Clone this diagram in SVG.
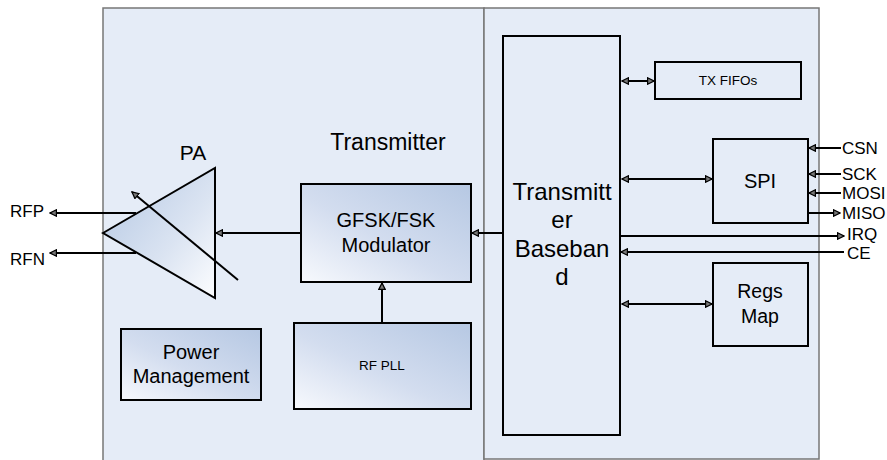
<svg xmlns="http://www.w3.org/2000/svg" width="887" height="460" viewBox="0 0 887 460">
<defs>
<linearGradient id="gb" x1="0" y1="1" x2="1" y2="0">
<stop offset="0" stop-color="#f7f9fd"/>
<stop offset="0.45" stop-color="#d3ddef"/>
<stop offset="1" stop-color="#b6c8e3"/>
</linearGradient>
<linearGradient id="gt" x1="0" y1="0.2" x2="0.9" y2="1">
<stop offset="0" stop-color="#b9cbe5"/>
<stop offset="0.6" stop-color="#dbe4f2"/>
<stop offset="1" stop-color="#f8fafd"/>
</linearGradient>
<marker id="ah" viewBox="0 0 10 10" refX="9" refY="5" markerWidth="4" markerHeight="4" orient="auto-start-reverse" markerUnits="strokeWidth">
<path d="M1,1 L9,5 L1,9 Z" fill="#777" stroke="#000" stroke-width="1.6"/>
</marker>
</defs>
<style>
.panel{fill:#e5ecf7;stroke:#777;stroke-width:1.5}
.box{stroke:#000;stroke-width:2}
.plain{fill:#e5ecf7}
.grad{fill:url(#gb)}
.t{font-family:"Liberation Sans",Arial,sans-serif;fill:#000;text-anchor:middle}
.lbl{font-family:"Liberation Sans",Arial,sans-serif;fill:#000;font-size:17px}
.w{stroke:#000;stroke-width:2;fill:none}
</style>
<g id="panels">
<rect class="panel" x="103" y="8" width="381" height="460"/>
<rect class="panel" x="484" y="8" width="335" height="451" stroke="#555"/>
</g>
<text class="t" x="388" y="150" font-size="23">Transmitter</text>
<g id="pa">
<polygon points="103,233 215,168 215,298" fill="url(#gt)" stroke="#000" stroke-width="2"/>
<text class="t" x="193" y="160" font-size="21">PA</text>
</g>
<g id="modulator">
<rect class="box grad" x="301" y="184" width="170" height="98"/>
<text class="t" x="386" y="227" font-size="20">GFSK/FSK</text>
<text class="t" x="386" y="252" font-size="20">Modulator</text>
</g>
<g id="rfpll">
<rect class="box grad" x="294" y="323" width="177" height="86"/>
<text class="t" x="382" y="370" font-size="13.5">RF PLL</text>
</g>
<g id="power">
<rect class="box grad" x="121" y="329" width="140" height="71"/>
<text class="t" x="191" y="359" font-size="20">Power</text>
<text class="t" x="191" y="383" font-size="20">Management</text>
</g>
<g id="baseband">
<rect class="box plain" x="503" y="36" width="117" height="399"/>
<text class="t" x="562" y="200" font-size="24">Transmitt</text>
<text class="t" x="562" y="228" font-size="24">er</text>
<text class="t" x="562" y="257" font-size="24">Baseban</text>
<text class="t" x="562" y="285" font-size="24">d</text>
</g>
<g id="txfifos">
<rect class="box plain" x="655" y="62" width="146" height="37"/>
<text class="t" x="728" y="85" font-size="13.5">TX FIFOs</text>
</g>
<g id="spi">
<rect class="box plain" x="713" y="139" width="95" height="84"/>
<text class="t" x="760" y="188" font-size="20">SPI</text>
</g>
<g id="regs">
<rect class="box plain" x="713" y="263" width="95" height="83"/>
<text class="t" x="760" y="298" font-size="19.5">Regs</text>
<text class="t" x="760" y="323" font-size="19.5">Map</text>
</g>
<g id="connectors">
<line class="w" x1="136" y1="213" x2="50" y2="213" marker-end="url(#ah)"/>
<line class="w" x1="136" y1="253" x2="50" y2="253" marker-end="url(#ah)"/>
<line class="w" x1="238" y1="280" x2="132" y2="192" marker-end="url(#ah)"/>
<line class="w" x1="301" y1="233" x2="216" y2="233" marker-end="url(#ah)"/>
<line class="w" x1="503" y1="233" x2="472" y2="233" marker-end="url(#ah)"/>
<line class="w" x1="382" y1="323" x2="382" y2="283" marker-end="url(#ah)"/>
<line class="w" x1="622" y1="81" x2="654" y2="81" marker-start="url(#ah)" marker-end="url(#ah)"/>
<line class="w" x1="622" y1="179" x2="712" y2="179" marker-start="url(#ah)" marker-end="url(#ah)"/>
<line class="w" x1="622" y1="304" x2="712" y2="304" marker-start="url(#ah)" marker-end="url(#ah)"/>
<line class="w" x1="841" y1="148" x2="809" y2="148" marker-end="url(#ah)"/>
<line class="w" x1="841" y1="174" x2="809" y2="174" marker-end="url(#ah)"/>
<line class="w" x1="841" y1="193" x2="809" y2="193" marker-end="url(#ah)"/>
<line class="w" x1="808" y1="213" x2="840" y2="213" marker-end="url(#ah)"/>
<line class="w" x1="620" y1="236" x2="844" y2="236" marker-end="url(#ah)"/>
<line class="w" x1="844" y1="252" x2="621" y2="252" marker-end="url(#ah)"/>
</g>
<g id="labels">
<text class="lbl" x="10" y="217" font-size="20">RFP</text>
<text class="lbl" x="10" y="265" font-size="20">RFN</text>
<text class="lbl" x="842" y="154">CSN</text>
<text class="lbl" x="842" y="180">SCK</text>
<text class="lbl" x="842" y="199">MOSI</text>
<text class="lbl" x="842" y="219">MISO</text>
<text class="lbl" x="847" y="240">IRQ</text>
<text class="lbl" x="847" y="259">CE</text>
</g>
</svg>
